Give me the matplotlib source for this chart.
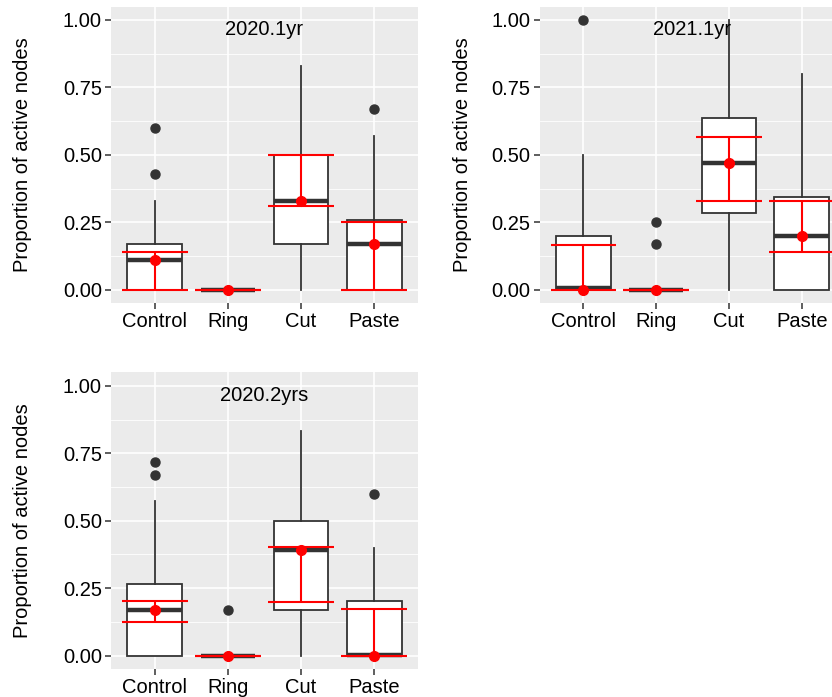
import matplotlib.pyplot as plt
import matplotlib
import numpy as np

matplotlib.rcParams['font.family'] = ['Liberation Sans', 'DejaVu Sans']

cats = ['Control', 'Ring', 'Cut', 'Paste']
panels = ['2020.1yr', '2021.1yr', '2020.2yrs']

# box statistics, one row per panel, one value per category
box_q1 = [[0.00, 0.00, 0.17, 0.00],
          [0.00, 0.00, 0.283, 0.00],
          [0.00, 0.00, 0.17, 0.00]]
box_med = [[0.11, 0.00, 0.33, 0.17],
           [0.005, 0.00, 0.468, 0.20],
           [0.17, 0.00, 0.39, 0.003]]
box_q3 = [[0.17, 0.00, 0.50, 0.26],
          [0.20, 0.00, 0.637, 0.342],
          [0.267, 0.00, 0.50, 0.204]]
whisk_lo = [[0.00, 0.00, 0.00, 0.00],
            [0.00, 0.00, 0.00, 0.00],
            [0.00, 0.00, 0.00, 0.00]]
whisk_hi = [[0.33, 0.00, 0.83, 0.57],
            [0.50, 0.00, 1.00, 0.80],
            [0.574, 0.00, 0.833, 0.40]]
outliers = [[[0.60, 0.43], [], [], [0.67]],
            [[1.00], [0.25, 0.17], [], []],
            [[0.717, 0.669], [0.17], [], [0.60]]]

# red mean and error bar
means = [[0.11, 0.00, 0.33, 0.17],
         [0.00, 0.00, 0.468, 0.20],
         [0.17, 0.00, 0.39, 0.00]]
err_lo = [[0.00, 0.00, 0.31, 0.00],
          [0.00, 0.00, 0.33, 0.138],
          [0.126, 0.00, 0.20, 0.00]]
err_hi = [[0.14, 0.00, 0.50, 0.25],
          [0.167, 0.00, 0.568, 0.33],
          [0.201, 0.00, 0.401, 0.171]]

W, H = 832, 697
fig = plt.figure(figsize=(W / 100, H / 100), dpi=100)

# panel boxes in pixels: left, top, width, height
pos = [(111, 6.5, 307, 296.7), (539.6, 6.5, 305.8, 296.7), (111, 372.4, 307, 296.7)]
ylab_x = [23, 462, 23]

dark = '#333333'
for p in range(3):
    l, t, w, h = pos[p]
    ax = fig.add_axes([l / W, (H - t - h) / H, w / W, h / H])
    ax.set_facecolor('#EBEBEB')
    for s in ax.spines.values():
        s.set_visible(False)
    stats = []
    for i in range(4):
        stats.append({'q1': box_q1[p][i], 'med': box_med[p][i], 'q3': box_q3[p][i],
                      'whislo': whisk_lo[p][i], 'whishi': whisk_hi[p][i],
                      'fliers': outliers[p][i]})
    x = np.arange(1, 5)
    ax.bxp(stats, positions=x, widths=0.75, showcaps=False, patch_artist=True,
           boxprops=dict(facecolor='white', edgecolor=dark, linewidth=1.3),
           medianprops=dict(color=dark, linewidth=3.2, solid_capstyle='butt'),
           whiskerprops=dict(color=dark, linewidth=1.3),
           flierprops=dict(marker='o', markerfacecolor=dark, markeredgecolor=dark,
                           markersize=6.5),
           zorder=2)
    m = np.array(means[p])
    lo = np.array(err_lo[p])
    hi = np.array(err_hi[p])
    ax.vlines(x, lo, hi, color='red', linewidth=1.5, zorder=4)
    ax.hlines(lo, x - 0.45, x + 0.45, color='red', linewidth=1.5, zorder=4)
    ax.hlines(hi, x - 0.45, x + 0.45, color='red', linewidth=1.5, zorder=4)
    ax.plot(x, m, 'o', color='red', markersize=7, zorder=5)

    ax.set_xlim(0.4, 4.6)
    ax.set_ylim(-0.05, 1.05)
    ax.set_xticks(x)
    ax.set_xticklabels(cats)
    ax.set_yticks([0, 0.25, 0.5, 0.75, 1.0])
    ax.set_yticklabels(['0.00', '0.25', '0.50', '0.75', '1.00'])
    ax.set_yticks([0.125, 0.375, 0.625, 0.875], minor=True)
    ax.grid(True, which='major', color='white', linewidth=1.2, zorder=0)
    ax.grid(True, which='minor', axis='y', color='white', linewidth=0.6, zorder=0)
    ax.set_axisbelow(True)
    ax.tick_params(axis='both', which='major', length=4.5, width=1.1, color=dark,
                   labelsize=14.5, labelcolor='black', pad=2)
    ax.tick_params(axis='y', which='minor', length=0)
    ax.text(2.5, 0.965, panels[p], ha='center', va='center', fontsize=14.5)
    fig.text(ylab_x[p] / W, (H - t - h / 2) / H, 'Proportion of active nodes',
             rotation=90, ha='center', va='center', fontsize=14.5)

fig.savefig('out.png', dpi=100)
